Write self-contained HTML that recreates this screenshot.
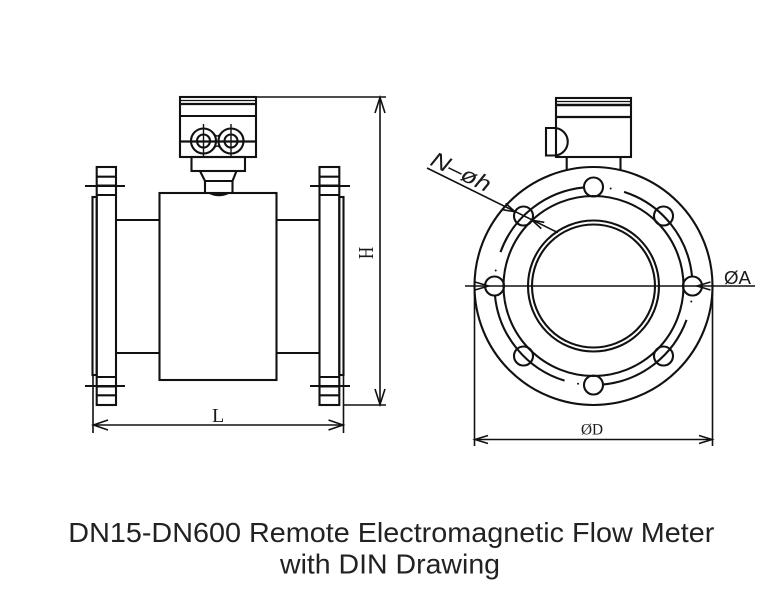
<!DOCTYPE html>
<html><head><meta charset="utf-8"><style>
html,body{margin:0;padding:0;background:#fff;}
svg{display:block;}
</style></head><body>
<svg width="768" height="606" viewBox="0 0 768 606" xmlns="http://www.w3.org/2000/svg">
<rect width="768" height="606" fill="#fff"/>
<g fill="none" stroke="#111" stroke-width="2.1" stroke-linecap="butt">
  <!-- LEFT VIEW -->
  <rect x="180" y="97" width="76" height="60"/>
  <line x1="180" y1="100.5" x2="256" y2="100.5" stroke-width="1.3"/>
  <line x1="180" y1="104" x2="256" y2="104" stroke-width="2.2"/>
  <line x1="180" y1="116" x2="256" y2="116"/>
  <line x1="180" y1="141.5" x2="256" y2="141.5" stroke-width="2.2"/>
  <circle cx="203.5" cy="141" r="12.5"/>
  <circle cx="231" cy="141" r="12.5"/>
  <circle cx="203.5" cy="141" r="6.5"/>
  <circle cx="231" cy="141" r="6.5"/>
  <path d="M213.5,133 Q217.25,139 221,133 M213.5,149 Q217.25,143 221,149" stroke-width="1.6"/>
  <line x1="203.5" y1="124" x2="203.5" y2="157" stroke-width="1.4"/>
  <line x1="231" y1="124" x2="231" y2="157" stroke-width="1.4"/>
  <rect x="191.5" y="157" width="53.5" height="14"/>
  <path d="M200,171 L205,181 L205,193 M236.5,171 L232.5,181 L232.5,193 M205,181 L232.5,181"/>
  <path d="M210,193 Q219,197 228,193" stroke-width="2.5"/>
  <rect x="159.5" y="193" width="117" height="187"/>
  <line x1="116" y1="220" x2="159.5" y2="220"/>
  <line x1="116" y1="353" x2="159.5" y2="353"/>
  <line x1="276.5" y1="220" x2="319.5" y2="220"/>
  <line x1="276.5" y1="353" x2="319.5" y2="353"/>
  <rect x="96.7" y="167" width="19.3" height="238"/>
  <path d="M96.7,176.7 H116 M96.7,185.5 H116 M96.7,195 H116 M96.7,377 H116 M96.7,386.5 H116 M96.7,395.3 H116"/>
  <rect x="92.5" y="197" width="4.2" height="178"/>
  <line x1="85" y1="186" x2="125" y2="186"/>
  <line x1="85" y1="386" x2="125" y2="386"/>
  <rect x="319.5" y="167" width="19.8" height="238"/>
  <path d="M319.5,176.7 H339.3 M319.5,185.5 H339.3 M319.5,195 H339.3 M319.5,377 H339.3 M319.5,386.5 H339.3 M319.5,395.3 H339.3"/>
  <rect x="339.3" y="197" width="4.2" height="178"/>
  <line x1="310" y1="186" x2="350" y2="186"/>
  <line x1="310" y1="386" x2="350" y2="386"/>
  <g stroke-width="1.6">
    <line x1="257" y1="97" x2="386" y2="97"/>
    <line x1="343" y1="405" x2="386" y2="405"/>
    <line x1="380" y1="97" x2="380" y2="405"/>
    <polyline points="375,113 380,97.5 385,113"/>
    <polyline points="375,389 380,404.5 385,389"/>
    <line x1="93" y1="375" x2="93" y2="433"/>
    <line x1="343.5" y1="375" x2="343.5" y2="433"/>
    <line x1="93" y1="425" x2="343.5" y2="425"/>
    <polyline points="108,420 93.5,425 108,430"/>
    <polyline points="328.5,420 343,425 328.5,430"/>
  </g>

  <!-- RIGHT VIEW -->
  <rect x="556" y="98" width="75" height="59"/>
  <line x1="556" y1="101.5" x2="631" y2="101.5" stroke-width="1.3"/>
  <line x1="556" y1="105" x2="631" y2="105" stroke-width="2.4"/>
  <line x1="556" y1="117" x2="631" y2="117" stroke-width="2.2"/>
  <path d="M556,128 L546,128 L546,155.5 L556,155.5"/>
  <path d="M554,128 A13.75,13.75 0 0 1 554,155.5"/>
  <line x1="566.7" y1="157" x2="566.7" y2="171"/>
  <line x1="620.5" y1="157" x2="620.5" y2="171"/>
  <circle cx="593.5" cy="286" r="119"/>
  <circle cx="593.5" cy="286" r="90"/>
  <circle cx="593.5" cy="286" r="65.5"/>
  <circle cx="593.5" cy="286" r="61.5"/>
  <path d="M584.01,187.46 A99,99 0 0 0 500.47,252.14"/>
  <path d="M494.95,295.49 A99,99 0 0 0 564.55,380.67"/>
  <path d="M602.99,384.54 A99,99 0 0 0 686.53,319.86"/>
  <path d="M692.05,276.51 A99,99 0 0 0 624.09,191.84"/>
  <circle cx="692.5" cy="286" r="9.5"/>
  <circle cx="663.5" cy="216" r="9.5"/>
  <circle cx="593.5" cy="187" r="9.5"/>
  <circle cx="523.5" cy="216" r="9.5"/>
  <circle cx="494.5" cy="286" r="9.5"/>
  <circle cx="523.5" cy="356" r="9.5"/>
  <circle cx="593.5" cy="385" r="9.5"/>
  <circle cx="663.5" cy="356" r="9.5"/>
  <g stroke-width="1.6">
    <line x1="465" y1="286" x2="755" y2="286"/>
    <polyline points="475,282 488.5,286 475,290"/>
    <polyline points="710.5,282 697,286 710.5,290"/>
    <line x1="427" y1="168" x2="558" y2="232.7"/>
    <polyline points="502.7,209.7 515,211.8 505.7,203.4"/>
    <polyline points="541.3,228.6 532,220.2 544.3,222.3"/>
    <line x1="474.5" y1="290" x2="474.5" y2="446"/>
    <line x1="712.5" y1="286" x2="712.5" y2="446"/>
    <line x1="474.5" y1="439.5" x2="712.5" y2="439.5"/>
    <polyline points="488,435.5 475,439.5 488,443.5"/>
    <polyline points="699,435.5 712,439.5 699,443.5"/>
  </g>
</g>
<g fill="#111">
  <circle cx="610.7" cy="188.5" r="1"/>
  <circle cx="495.7" cy="270.5" r="1"/>
  <circle cx="578" cy="383.8" r="1"/>
  <circle cx="691.3" cy="301.5" r="1"/>
</g>
<g fill="#1a1a1a">
  <text x="212" y="422" font-family="Liberation Serif, serif" font-size="20">L</text>
  <text transform="translate(373,253) rotate(-90) scale(0.8,1)" x="0" y="0" text-anchor="middle" font-family="Liberation Serif, serif" font-size="21">H</text>
  <text x="581" y="434.5" font-family="Liberation Serif, serif" font-size="16" textLength="22" lengthAdjust="spacingAndGlyphs">ØD</text>
  <text x="724" y="284" font-family="Liberation Sans, sans-serif" font-size="18" textLength="27" lengthAdjust="spacingAndGlyphs">ØA</text>
  <text transform="translate(429,164.5) rotate(26)" x="0" y="0" font-family="Liberation Sans, sans-serif" font-size="22" font-style="italic" textLength="64" lengthAdjust="spacingAndGlyphs">N–øh</text>
</g>
<g fill="#222" font-family="Liberation Sans, sans-serif" font-size="28">
  <text x="68.3" y="542" textLength="646" lengthAdjust="spacingAndGlyphs">DN15-DN600 Remote Electromagnetic Flow Meter</text>
  <text x="280" y="573.5" textLength="220" lengthAdjust="spacingAndGlyphs">with DIN Drawing</text>
</g>
</svg>
</body></html>
